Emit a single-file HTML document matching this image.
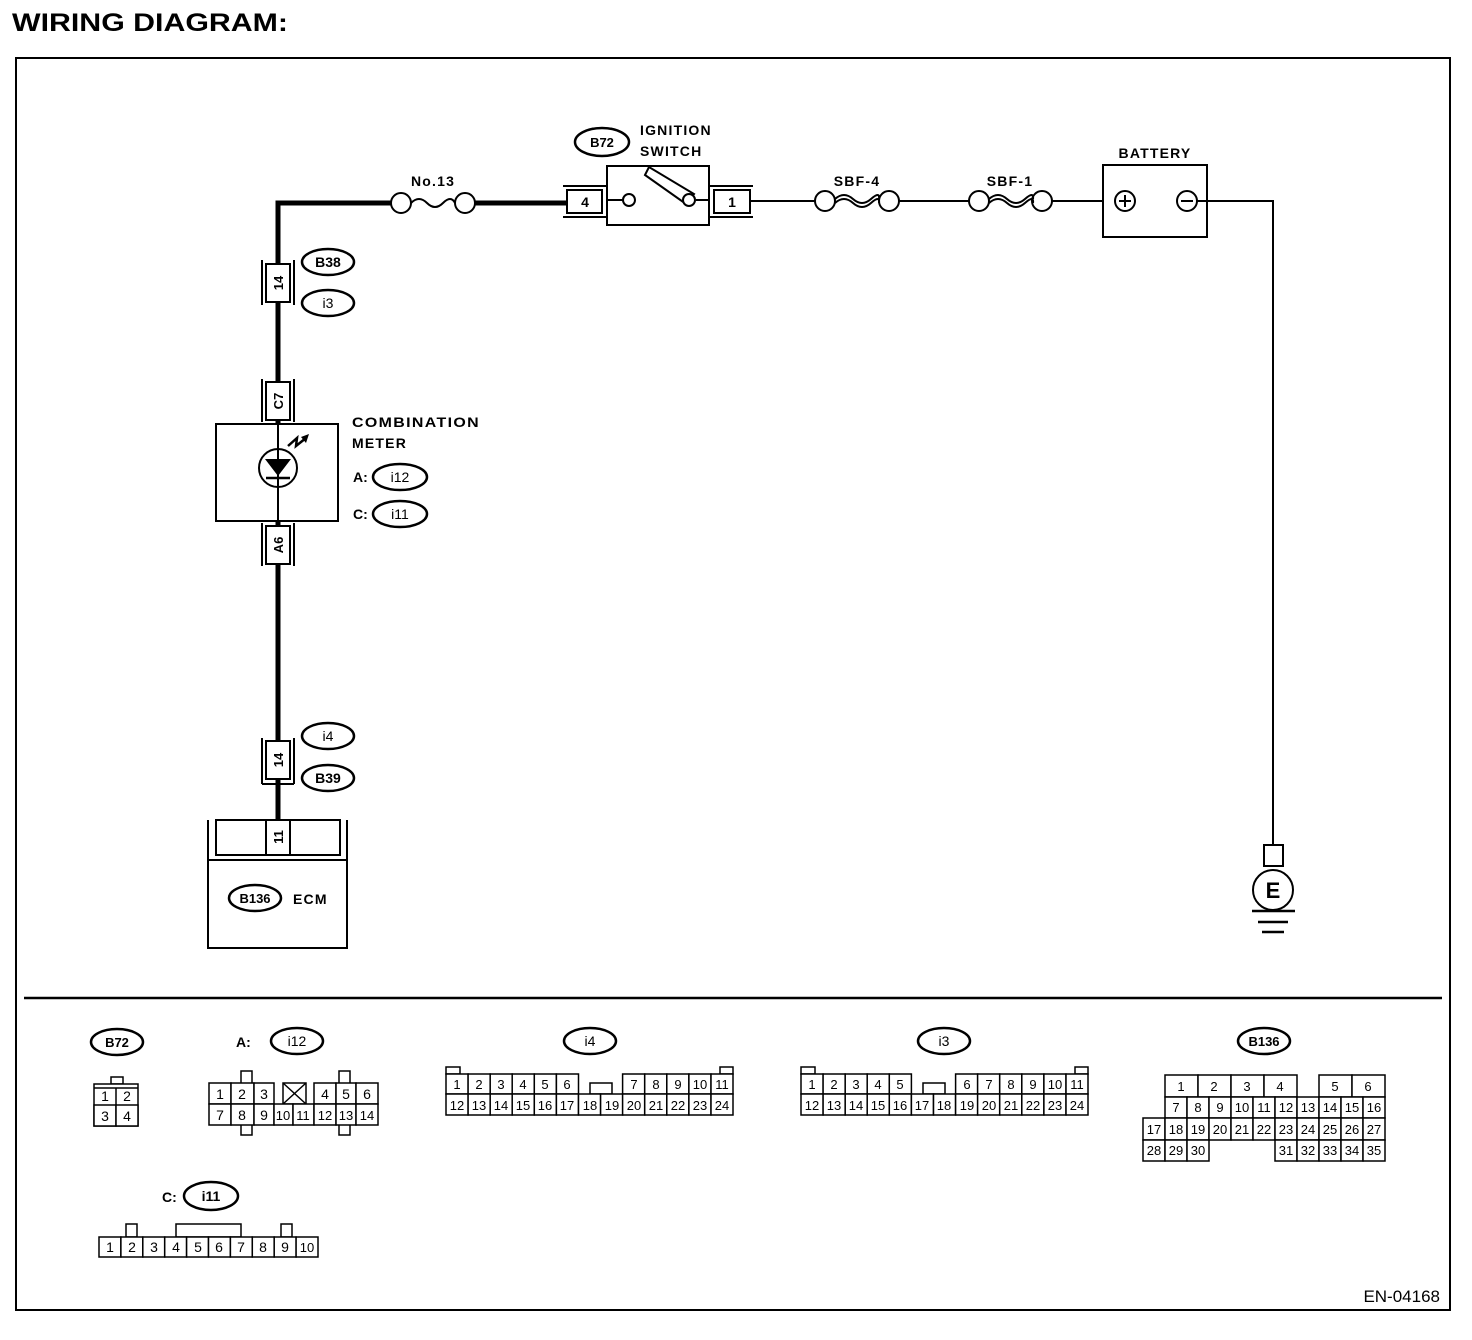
<!DOCTYPE html>
<html><head><meta charset="utf-8"><style>
html,body{margin:0;padding:0;background:#fff;}
svg{display:block;font-family:"Liberation Sans",sans-serif;}
text{fill:#000;}
.b{font-weight:bold;}
.l{font-weight:bold;letter-spacing:1.2px;}
</style></head><body>
<svg width="1472" height="1340" viewBox="0 0 1472 1340" xmlns="http://www.w3.org/2000/svg">
<text x="12" y="31" class="b" font-size="25" textLength="276" lengthAdjust="spacingAndGlyphs">WIRING DIAGRAM:</text>
<rect x="16" y="58" width="1434" height="1252" fill="none" stroke="#000" stroke-width="2"/>
<line x1="24" y1="998" x2="1442" y2="998" stroke="#000" stroke-width="2.5"/>

<g fill="none" stroke="#000">
<polyline points="278,820 278,203 391,203" stroke-width="5"/>
<line x1="475" y1="203" x2="567" y2="203" stroke-width="5"/>
<line x1="751" y1="201" x2="815" y2="201" stroke-width="2"/>
<line x1="899" y1="201" x2="969" y2="201" stroke-width="2"/>
<line x1="1052" y1="201" x2="1103" y2="201" stroke-width="2"/>
<polyline points="1197,201 1273,201 1273,845" stroke-width="2"/>
</g>

<g fill="#fff" stroke="#000" stroke-width="2">
<circle cx="401" cy="203" r="10"/><circle cx="465" cy="203" r="10"/>
<path d="M411,203 q8,-8 16,0 t16,0 t12,0" fill="none"/>
<circle cx="825" cy="201" r="10"/><circle cx="889" cy="201" r="10"/>
<path d="M835,199 q9,-8 18,0 t18,0 t8,0" fill="none"/>
<path d="M835,203 q9,-8 18,0 t18,0 t8,0" fill="none"/>
<circle cx="979" cy="201" r="10"/><circle cx="1042" cy="201" r="10"/>
<path d="M989,199 q9,-8 18,0 t18,0 t8,0" fill="none"/>
<path d="M989,203 q9,-8 18,0 t18,0 t8,0" fill="none"/>
</g>
<text x="433" y="186" class="l" font-size="14" text-anchor="middle">No.13</text>
<text x="857" y="186" class="l" font-size="14" text-anchor="middle">SBF-4</text>
<text x="1010" y="186" class="l" font-size="14" text-anchor="middle">SBF-1</text>

<g fill="none" stroke="#000" stroke-width="2">
<line x1="563" y1="186" x2="607" y2="186"/><line x1="563" y1="217" x2="607" y2="217"/>
<rect x="567" y="190" width="35" height="23" fill="#fff"/>
<line x1="709" y1="186" x2="753" y2="186"/><line x1="709" y1="217" x2="753" y2="217"/>
<rect x="714" y="190" width="36" height="23" fill="#fff"/>
<rect x="607" y="166" width="102" height="59"/>
<line x1="607" y1="200" x2="623" y2="200"/><line x1="696" y1="200" x2="709" y2="200"/>
<circle cx="629" cy="200" r="6" fill="#fff"/>
<polygon points="645,175 649,167 694,194 686,204" fill="#fff"/>
<circle cx="689" cy="200" r="6" fill="#fff"/>
</g>
<text x="585" y="207" class="b" font-size="14" text-anchor="middle">4</text>
<text x="732" y="207" class="b" font-size="14" text-anchor="middle">1</text>
<ellipse cx="602" cy="142" rx="27" ry="14" fill="#fff" stroke="#000" stroke-width="2.5"/>
<text x="602" y="147" class="b" font-size="13" text-anchor="middle">B72</text>
<text x="640" y="135" class="l" font-size="14">IGNITION</text>
<text x="640" y="156" class="l" font-size="14">SWITCH</text>

<rect x="1103" y="165" width="104" height="72" fill="none" stroke="#000" stroke-width="2"/>
<text x="1155" y="158" class="l" font-size="14" text-anchor="middle">BATTERY</text>
<g fill="#fff" stroke="#000" stroke-width="2">
<circle cx="1125" cy="201" r="10"/><line x1="1119" y1="201" x2="1131" y2="201"/><line x1="1125" y1="195" x2="1125" y2="207"/>
<circle cx="1187" cy="201" r="10"/><line x1="1181" y1="201" x2="1193" y2="201"/>
</g>

<g fill="#fff" stroke="#000" stroke-width="2">
<rect x="1264" y="845" width="19" height="21"/>
<circle cx="1273" cy="890" r="20"/>
</g>
<text x="1273" y="898" class="b" font-size="22" text-anchor="middle">E</text>
<g stroke="#000" stroke-width="2.5">
<line x1="1252" y1="911" x2="1295" y2="911"/>
<line x1="1258" y1="922" x2="1288" y2="922"/>
<line x1="1262" y1="932" x2="1284" y2="932"/>
</g>

<g fill="none" stroke="#000" stroke-width="2">
<line x1="262" y1="260" x2="262" y2="305"/><line x1="294" y1="260" x2="294" y2="305"/>
<rect x="266" y="264" width="24" height="38" fill="#fff"/>
<line x1="262" y1="379" x2="262" y2="422"/><line x1="294" y1="379" x2="294" y2="422"/>
<rect x="266" y="382" width="24" height="38" fill="#fff"/>
<rect x="216" y="424" width="122" height="97" fill="#fff"/>
<line x1="278" y1="424" x2="278" y2="521"/>
<line x1="262" y1="523" x2="262" y2="566"/><line x1="294" y1="523" x2="294" y2="566"/>
<rect x="266" y="526" width="24" height="38" fill="#fff"/>
<line x1="262" y1="738" x2="262" y2="784"/><line x1="294" y1="738" x2="294" y2="784"/>
<line x1="262" y1="784" x2="294" y2="784"/>
<rect x="266" y="741" width="24" height="38" fill="#fff"/>
<line x1="278" y1="779" x2="278" y2="820" stroke-width="5"/>
</g>
<g class="b" font-size="13" text-anchor="middle">
<text transform="translate(283,283) rotate(-90)">14</text>
<text transform="translate(283,401) rotate(-90)">C7</text>
<text transform="translate(283,545) rotate(-90)">A6</text>
<text transform="translate(283,760) rotate(-90)">14</text>
</g>
<circle cx="278" cy="468" r="19" fill="none" stroke="#000" stroke-width="2"/>
<polygon points="265,459 291,459 278,476" fill="#000"/>
<line x1="266" y1="478" x2="290" y2="478" stroke="#000" stroke-width="2.5"/>
<polyline points="288,446 297,438 296,446 306,438" fill="none" stroke="#000" stroke-width="2.5"/>
<polygon points="309,434 301,437 306,443" fill="#000"/>

<g fill="#fff" stroke="#000" stroke-width="2.5">
<ellipse cx="328" cy="262" rx="26" ry="13"/>
<ellipse cx="328" cy="303" rx="26" ry="13"/>
<ellipse cx="400" cy="477" rx="27" ry="13"/>
<ellipse cx="400" cy="514" rx="27" ry="13"/>
<ellipse cx="328" cy="736" rx="26" ry="13"/>
<ellipse cx="328" cy="778" rx="26" ry="13"/>
</g>
<g class="b" font-size="14" text-anchor="middle">
<text x="328" y="267">B38</text>
<text x="328" y="308" font-weight="normal">i3</text>
<text x="400" y="482" font-weight="normal">i12</text>
<text x="400" y="519" font-weight="normal">i11</text>
<text x="328" y="741" font-weight="normal">i4</text>
<text x="328" y="783">B39</text>
</g>
<text x="352" y="427" class="l" font-size="14" textLength="128" lengthAdjust="spacingAndGlyphs">COMBINATION</text>
<text x="352" y="448" class="l" font-size="14">METER</text>
<text x="353" y="482" class="b" font-size="14">A:</text>
<text x="353" y="519" class="b" font-size="14">C:</text>

<g fill="none" stroke="#000" stroke-width="2">
<rect x="208" y="860" width="139" height="88"/>
<polyline points="208,820 208,860 347,860 347,820"/>
<rect x="216" y="820" width="124" height="35"/>
<line x1="266" y1="820" x2="266" y2="855"/><line x1="290" y1="820" x2="290" y2="855"/>
</g>
<text transform="translate(283,837) rotate(-90)" class="b" font-size="13" text-anchor="middle">11</text>
<ellipse cx="255" cy="898" rx="26" ry="13" fill="#fff" stroke="#000" stroke-width="2.5"/>
<text x="255" y="903" class="b" font-size="13" text-anchor="middle">B136</text>
<text x="293" y="904" class="l" font-size="14">ECM</text>

<g fill="#fff" stroke="#000" stroke-width="2.5">
<ellipse cx="117" cy="1042" rx="26" ry="13"/>
<ellipse cx="297" cy="1041" rx="26" ry="13"/>
<ellipse cx="590" cy="1041" rx="26" ry="13"/>
<ellipse cx="944" cy="1041" rx="26" ry="13"/>
<ellipse cx="1264" cy="1041" rx="26" ry="13"/>
<ellipse cx="211" cy="1196" rx="27" ry="14"/>
</g>
<g class="b" font-size="13" text-anchor="middle">
<text x="117" y="1047">B72</text>
<text x="297" y="1046" font-weight="normal" font-size="14">i12</text>
<text x="590" y="1046" font-weight="normal" font-size="14">i4</text>
<text x="944" y="1046" font-weight="normal" font-size="14">i3</text>
<text x="1264" y="1046">B136</text>
<text x="211" y="1201" font-size="14">i11</text>
</g>
<text x="236" y="1047" class="b" font-size="14">A:</text>
<text x="162" y="1202" class="b" font-size="14">C:</text>

<g fill="#fff" stroke="#000" stroke-width="1.5">
<rect x="111" y="1077" width="12" height="7"/>
<rect x="94" y="1084" width="44" height="42"/>
<rect x="94" y="1105" width="22" height="21"/><rect x="116" y="1105" width="22" height="21"/>
<line x1="94" y1="1088" x2="138" y2="1088"/><line x1="116" y1="1088" x2="116" y2="1105"/>
<rect x="241" y="1071" width="11" height="64"/><rect x="339" y="1071" width="11" height="64"/>
<rect x="209" y="1083" width="22" height="21"/><rect x="231" y="1083" width="23" height="21"/><rect x="254" y="1083" width="20" height="21"/>
<rect x="283" y="1083" width="23" height="21"/>
<rect x="314" y="1083" width="22" height="21"/><rect x="336" y="1083" width="20" height="21"/><rect x="356" y="1083" width="22" height="21"/>
<rect x="209" y="1104" width="22" height="21"/><rect x="231" y="1104" width="23" height="21"/><rect x="254" y="1104" width="20" height="21"/><rect x="274" y="1104" width="19" height="21"/><rect x="293" y="1104" width="21" height="21"/><rect x="314" y="1104" width="22" height="21"/><rect x="336" y="1104" width="20" height="21"/><rect x="356" y="1104" width="22" height="21"/>
<line x1="283" y1="1083" x2="306" y2="1104"/><line x1="306" y1="1083" x2="283" y2="1104"/>
<rect x="446" y="1067" width="14" height="7"/><rect x="720" y="1067" width="13" height="7"/>
<rect x="590" y="1083" width="22" height="11"/>
<rect x="801" y="1067" width="14" height="7"/><rect x="1075" y="1067" width="13" height="7"/>
<rect x="923" y="1083" width="22" height="11"/>
<rect x="126" y="1224" width="11" height="13"/><rect x="176" y="1224" width="65" height="13"/><rect x="281" y="1224" width="11" height="13"/>
</g>
<g font-size="14" text-anchor="middle">
<text x="105" y="1101">1</text><text x="127" y="1101">2</text><text x="105" y="1121">3</text><text x="127" y="1121">4</text>
<text x="220" y="1099">1</text><text x="242" y="1099">2</text><text x="264" y="1099">3</text><text x="325" y="1099">4</text><text x="346" y="1099">5</text><text x="367" y="1099">6</text>
<text x="220" y="1120">7</text><text x="242" y="1120">8</text><text x="264" y="1120">9</text><text x="283" y="1120" font-size="13">10</text><text x="303" y="1120" font-size="13">11</text><text x="325" y="1120" font-size="13">12</text><text x="346" y="1120" font-size="13">13</text><text x="367" y="1120" font-size="13">14</text>
</g>

<g fill="#fff" stroke="#000" stroke-width="1.5">
<rect x="446" y="1074" width="22.1" height="20"/><rect x="468.1" y="1074" width="22.1" height="20"/><rect x="490.2" y="1074" width="22.1" height="20"/><rect x="512.2" y="1074" width="22.1" height="20"/><rect x="534.3" y="1074" width="22.1" height="20"/><rect x="556.4" y="1074" width="22.1" height="20"/>
<rect x="622.6" y="1074" width="22.1" height="20"/><rect x="644.7" y="1074" width="22.1" height="20"/><rect x="666.8" y="1074" width="22.1" height="20"/><rect x="688.9" y="1074" width="22.1" height="20"/><rect x="711" y="1074" width="22" height="20"/>
<rect x="446" y="1094" width="22.1" height="21"/><rect x="468.1" y="1094" width="22.1" height="21"/><rect x="490.2" y="1094" width="22.1" height="21"/><rect x="512.2" y="1094" width="22.1" height="21"/><rect x="534.3" y="1094" width="22.1" height="21"/><rect x="556.4" y="1094" width="22.1" height="21"/><rect x="578.5" y="1094" width="22.1" height="21"/><rect x="600.6" y="1094" width="22.1" height="21"/><rect x="622.6" y="1094" width="22.1" height="21"/><rect x="644.7" y="1094" width="22.1" height="21"/><rect x="666.8" y="1094" width="22.1" height="21"/><rect x="688.9" y="1094" width="22.1" height="21"/><rect x="711" y="1094" width="22" height="21"/>
</g>
<g font-size="13" text-anchor="middle">
<text x="457" y="1089">1</text><text x="479" y="1089">2</text><text x="501" y="1089">3</text><text x="523" y="1089">4</text><text x="545" y="1089">5</text><text x="567" y="1089">6</text><text x="634" y="1089">7</text><text x="656" y="1089">8</text><text x="678" y="1089">9</text><text x="700" y="1089">10</text><text x="722" y="1089">11</text>
<text x="457" y="1110">12</text><text x="479" y="1110">13</text><text x="501" y="1110">14</text><text x="523" y="1110">15</text><text x="545" y="1110">16</text><text x="567" y="1110">17</text><text x="590" y="1110">18</text><text x="612" y="1110">19</text><text x="634" y="1110">20</text><text x="656" y="1110">21</text><text x="678" y="1110">22</text><text x="700" y="1110">23</text><text x="722" y="1110">24</text>
</g>

<g fill="#fff" stroke="#000" stroke-width="1.5">
<rect x="801" y="1074" width="22.1" height="20"/><rect x="823.1" y="1074" width="22.1" height="20"/><rect x="845.2" y="1074" width="22.1" height="20"/><rect x="867.2" y="1074" width="22.1" height="20"/><rect x="889.3" y="1074" width="22.1" height="20"/>
<rect x="955.6" y="1074" width="22.1" height="20"/><rect x="977.6" y="1074" width="22.1" height="20"/><rect x="999.7" y="1074" width="22.1" height="20"/><rect x="1021.8" y="1074" width="22.1" height="20"/><rect x="1043.9" y="1074" width="22.1" height="20"/><rect x="1066" y="1074" width="22" height="20"/>
<rect x="801" y="1094" width="22.1" height="21"/><rect x="823.1" y="1094" width="22.1" height="21"/><rect x="845.2" y="1094" width="22.1" height="21"/><rect x="867.2" y="1094" width="22.1" height="21"/><rect x="889.3" y="1094" width="22.1" height="21"/><rect x="911.4" y="1094" width="22.1" height="21"/><rect x="933.5" y="1094" width="22.1" height="21"/><rect x="955.6" y="1094" width="22.1" height="21"/><rect x="977.6" y="1094" width="22.1" height="21"/><rect x="999.7" y="1094" width="22.1" height="21"/><rect x="1021.8" y="1094" width="22.1" height="21"/><rect x="1043.9" y="1094" width="22.1" height="21"/><rect x="1066" y="1094" width="22" height="21"/>
</g>
<g font-size="13" text-anchor="middle">
<text x="812" y="1089">1</text><text x="834" y="1089">2</text><text x="856" y="1089">3</text><text x="878" y="1089">4</text><text x="900" y="1089">5</text><text x="967" y="1089">6</text><text x="989" y="1089">7</text><text x="1011" y="1089">8</text><text x="1033" y="1089">9</text><text x="1055" y="1089">10</text><text x="1077" y="1089">11</text>
<text x="812" y="1110">12</text><text x="834" y="1110">13</text><text x="856" y="1110">14</text><text x="878" y="1110">15</text><text x="900" y="1110">16</text><text x="922" y="1110">17</text><text x="944" y="1110">18</text><text x="967" y="1110">19</text><text x="989" y="1110">20</text><text x="1011" y="1110">21</text><text x="1033" y="1110">22</text><text x="1055" y="1110">23</text><text x="1077" y="1110">24</text>
</g>

<g fill="#fff" stroke="#000" stroke-width="1.5">
<rect x="1165" y="1075" width="33" height="22"/><rect x="1198" y="1075" width="33" height="22"/><rect x="1231" y="1075" width="33" height="22"/><rect x="1264" y="1075" width="33" height="22"/>
<rect x="1319" y="1075" width="33" height="22"/><rect x="1352" y="1075" width="33" height="22"/>
<rect x="1165" y="1097" width="22" height="21"/><rect x="1187" y="1097" width="22" height="21"/><rect x="1209" y="1097" width="22" height="21"/><rect x="1231" y="1097" width="22" height="21"/><rect x="1253" y="1097" width="22" height="21"/><rect x="1275" y="1097" width="22" height="21"/><rect x="1297" y="1097" width="22" height="21"/><rect x="1319" y="1097" width="22" height="21"/><rect x="1341" y="1097" width="22" height="21"/><rect x="1363" y="1097" width="22" height="21"/>
<rect x="1143" y="1118" width="22" height="22"/><rect x="1165" y="1118" width="22" height="22"/><rect x="1187" y="1118" width="22" height="22"/><rect x="1209" y="1118" width="22" height="22"/><rect x="1231" y="1118" width="22" height="22"/><rect x="1253" y="1118" width="22" height="22"/><rect x="1275" y="1118" width="22" height="22"/><rect x="1297" y="1118" width="22" height="22"/><rect x="1319" y="1118" width="22" height="22"/><rect x="1341" y="1118" width="22" height="22"/><rect x="1363" y="1118" width="22" height="22"/>
<rect x="1143" y="1140" width="22" height="21"/><rect x="1165" y="1140" width="22" height="21"/><rect x="1187" y="1140" width="22" height="21"/>
<rect x="1275" y="1140" width="22" height="21"/><rect x="1297" y="1140" width="22" height="21"/><rect x="1319" y="1140" width="22" height="21"/><rect x="1341" y="1140" width="22" height="21"/><rect x="1363" y="1140" width="22" height="21"/>
</g>
<g font-size="13" text-anchor="middle">
<text x="1181" y="1091">1</text><text x="1214" y="1091">2</text><text x="1247" y="1091">3</text><text x="1280" y="1091">4</text><text x="1335" y="1091">5</text><text x="1368" y="1091">6</text>
<text x="1176" y="1112">7</text><text x="1198" y="1112">8</text><text x="1220" y="1112">9</text><text x="1242" y="1112">10</text><text x="1264" y="1112">11</text><text x="1286" y="1112">12</text><text x="1308" y="1112">13</text><text x="1330" y="1112">14</text><text x="1352" y="1112">15</text><text x="1374" y="1112">16</text>
<text x="1154" y="1134">17</text><text x="1176" y="1134">18</text><text x="1198" y="1134">19</text><text x="1220" y="1134">20</text><text x="1242" y="1134">21</text><text x="1264" y="1134">22</text><text x="1286" y="1134">23</text><text x="1308" y="1134">24</text><text x="1330" y="1134">25</text><text x="1352" y="1134">26</text><text x="1374" y="1134">27</text>
<text x="1154" y="1155">28</text><text x="1176" y="1155">29</text><text x="1198" y="1155">30</text><text x="1286" y="1155">31</text><text x="1308" y="1155">32</text><text x="1330" y="1155">33</text><text x="1352" y="1155">34</text><text x="1374" y="1155">35</text>
</g>

<g fill="#fff" stroke="#000" stroke-width="1.5">
<rect x="99" y="1237" width="21.9" height="20"/><rect x="120.9" y="1237" width="21.9" height="20"/><rect x="142.8" y="1237" width="21.9" height="20"/><rect x="164.7" y="1237" width="21.9" height="20"/><rect x="186.6" y="1237" width="21.9" height="20"/><rect x="208.5" y="1237" width="21.9" height="20"/><rect x="230.4" y="1237" width="21.9" height="20"/><rect x="252.3" y="1237" width="21.9" height="20"/><rect x="274.2" y="1237" width="21.9" height="20"/><rect x="296.1" y="1237" width="21.9" height="20"/>
</g>
<g font-size="14" text-anchor="middle">
<text x="110" y="1252">1</text><text x="132" y="1252">2</text><text x="154" y="1252">3</text><text x="176" y="1252">4</text><text x="198" y="1252">5</text><text x="219" y="1252">6</text><text x="241" y="1252">7</text><text x="263" y="1252">8</text><text x="285" y="1252">9</text><text x="307" y="1252" font-size="13">10</text>
</g>

<text x="1440" y="1302" font-size="17" text-anchor="end">EN-04168</text>
</svg>
</body></html>
